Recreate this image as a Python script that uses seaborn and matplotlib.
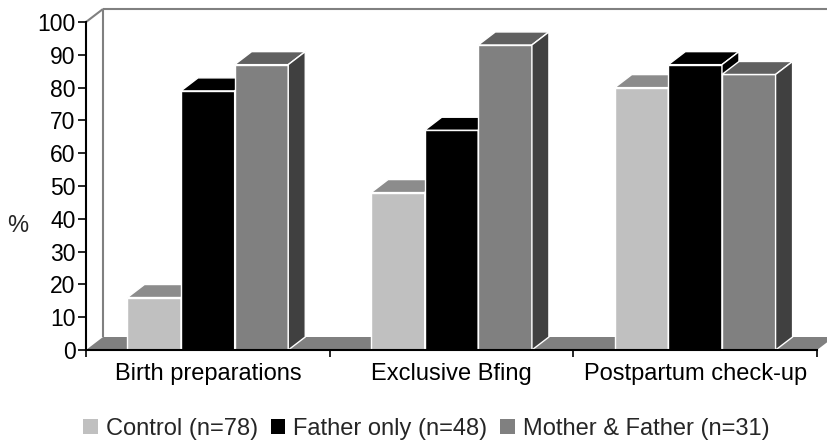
import matplotlib
matplotlib.use("Agg")
import matplotlib.pyplot as plt
import seaborn as sns
import pandas as pd
from matplotlib.patches import Polygon, Patch
from matplotlib.lines import Line2D

# --- data -------------------------------------------------------------
categories = ["Birth preparations", "Exclusive Bfing", "Postpartum check-up"]
groups = ["Control (n=78)", "Father only (n=48)", "Mother & Father (n=31)"]
control = [16, 48, 80]
father_only = [79, 67, 87]
mother_father = [87, 93, 84]
y_ticks = list(range(0, 101, 10))

front_colors = ["#c0c0c0", "#000000", "#808080"]
top_colors = ["#8c8c8c", "#000000", "#606060"]
side_colors = ["#6a6a6a", "#000000", "#404040"]

df = pd.DataFrame({
    "category": categories * 3,
    "group": [g for g in groups for _ in categories],
    "value": control + father_only + mother_father,
})

sns.set_theme(style="ticks")
plt.rcParams["font.family"] = ["Liberation Sans", "DejaVu Sans"]

W, H = 828, 446
fig = plt.figure(figsize=(W / 100, H / 100), dpi=100)
left_px, right_px, bottom_px, top_px = 86, 817, 350, 22
ax = fig.add_axes([left_px / W, 1 - bottom_px / H,
                   (right_px - left_px) / W, (bottom_px - top_px) / H])

sns.barplot(data=df, x="category", y="value", hue="group",
            palette=front_colors, saturation=1, width=0.66,
            edgecolor="white", linewidth=1.0, errorbar=None,
            legend=False, ax=ax)

ax.set_xlim(-0.5, 2.5)
ax.set_ylim(0, 100)

# depth of the pseudo-3D extrusion, in pixels converted to data units
sx = (right_px - left_px) / 3.0
sy = (bottom_px - top_px) / 100.0
DX = 17 / sx
DY = 13 / sy

# floor and back wall
floor = Polygon([(-0.5, 0), (2.5, 0), (2.5 + DX, DY), (-0.5 + DX, DY)],
                closed=True, facecolor="#808080", edgecolor="none",
                zorder=1, clip_on=False)
ax.add_patch(floor)
wall_kw = dict(color="#808080", lw=1.5, zorder=0.8, clip_on=False,
               solid_capstyle="butt")
ax.add_line(Line2D([-0.5, -0.5 + DX], [100, 100 + DY], **wall_kw))
ax.add_line(Line2D([-0.5 + DX, -0.5 + DX], [DY, 100 + DY], **wall_kw))
ax.add_line(Line2D([-0.5 + DX, 2.5 + DX], [100 + DY, 100 + DY], **wall_kw))

# extrude every bar: top and right side faces
for k, cont in enumerate(ax.containers):
    z = 3 + k * 0.1
    for bar in cont:
        bar.set_zorder(z)
        x0, w, h = bar.get_x(), bar.get_width(), bar.get_height()
        top = Polygon([(x0, h), (x0 + w, h), (x0 + w + DX, h + DY), (x0 + DX, h + DY)],
                      closed=True, facecolor=top_colors[k], edgecolor="white",
                      linewidth=1.0, zorder=z + 0.01, clip_on=False)
        side = Polygon([(x0 + w, 0), (x0 + w + DX, DY), (x0 + w + DX, h + DY), (x0 + w, h)],
                       closed=True, facecolor=side_colors[k], edgecolor="white",
                       linewidth=1.0, zorder=z + 0.01, clip_on=False)
        ax.add_patch(top)
        ax.add_patch(side)

# axes styling
for s in ["top", "right"]:
    ax.spines[s].set_visible(False)
for s in ["left", "bottom"]:
    ax.spines[s].set_color("black")
    ax.spines[s].set_linewidth(1.5)
    ax.spines[s].set_zorder(10)

ax.set_yticks(y_ticks)
ax.set_xticks(range(len(categories)))
ax.set_xticklabels(categories)
ax.set_xticks([-0.5, 0.5, 1.5, 2.5], minor=True)
ax.tick_params(axis="y", direction="out", length=6, width=1.2, color="black",
               labelsize=16.5, pad=1.5, labelcolor="black")
ax.tick_params(axis="x", which="major", length=0, labelsize=17, pad=17,
               labelcolor="black")
ax.tick_params(axis="x", which="minor", direction="out", length=5, width=1.2,
               color="black", bottom=True)
for t in ax.get_xticklabels():
    t.set_verticalalignment("center")
ax.set_xlabel("")
ax.set_ylabel("")
ax.set_facecolor("white")

fig.text(18 / W, 1 - 226 / H, "%", fontsize=17, ha="center", va="center")

handles = [Patch(facecolor=c, edgecolor="none") for c in front_colors]
fig.legend(handles=handles, labels=groups, loc="center",
           bbox_to_anchor=(0.515, 1 - 429 / H), ncol=3, frameon=False,
           fontsize=17, handlelength=0.6, handleheight=0.6,
           handletextpad=0.35, columnspacing=0.55, borderaxespad=0)

fig.savefig("out.png", dpi=100)
